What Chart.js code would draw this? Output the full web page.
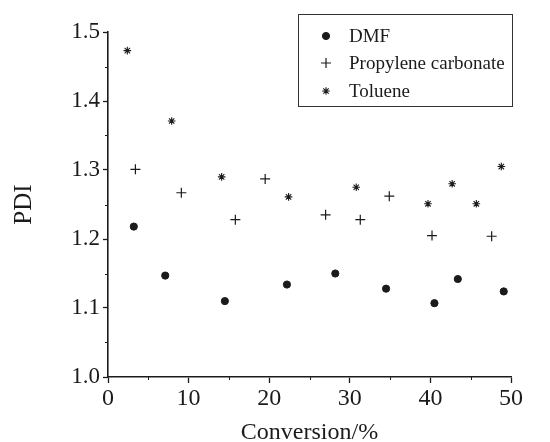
<!DOCTYPE html>
<html>
<head>
<meta charset="utf-8">
<script src="https://cdn.jsdelivr.net/npm/chart.js@4/dist/chart.umd.min.js"></script>
<style>
  html, body { margin: 0; padding: 0; background: #fff; }
  #wrap { width: 550px; height: 442px; }
</style>
</head>
<body>
<div id="wrap"><canvas id="pdiChart" width="550" height="442"></canvas></div>
<script>
// PDI vs conversion, three solvents
const dmfX = [3.2, 7.1, 14.5, 22.2, 28.2, 34.5, 40.5, 43.4, 49.1];
const dmfY = [1.218, 1.147, 1.110, 1.134, 1.150, 1.128, 1.107, 1.142, 1.124];

const pcX = [3.4, 9.1, 15.8, 19.5, 27.0, 31.3, 34.9, 40.2, 47.6];
const pcY = [1.301, 1.267, 1.228, 1.287, 1.235, 1.228, 1.262, 1.205, 1.204];

const tolX = [2.4, 7.9, 14.1, 22.4, 30.8, 39.7, 42.7, 45.7, 48.8];
const tolY = [1.473, 1.371, 1.290, 1.261, 1.275, 1.251, 1.280, 1.251, 1.305];

const xMinorTicks = [5, 15, 25, 35, 45];
const yMinorTicks = [1.05, 1.15, 1.25, 1.35, 1.45];

const INK = '#1b1b1b';
const SERIF = "'Liberation Serif', 'DejaVu Serif', serif";

const toPoints = (xs, ys) => xs.map((x, i) => ({ x: x, y: ys[i] }));

// short minor ticks, outside the axes
const minorTicks = {
  id: 'minorTicks',
  afterDraw(chart) {
    const ctx = chart.ctx;
    const xs = chart.scales.x, ys = chart.scales.y;
    const area = chart.chartArea;
    ctx.save();
    ctx.strokeStyle = INK;
    ctx.lineWidth = 1;
    ctx.beginPath();
    yMinorTicks.forEach(v => {
      const py = Math.round(ys.getPixelForValue(v)) + 0.5;
      ctx.moveTo(area.left - 3, py);
      ctx.lineTo(area.left, py);
    });
    xMinorTicks.forEach(v => {
      const px = Math.round(xs.getPixelForValue(v)) + 0.5;
      ctx.moveTo(px, area.bottom);
      ctx.lineTo(px, area.bottom + 3);
    });
    ctx.stroke();
    ctx.restore();
  }
};

// boxed legend in the upper right
const boxLegend = {
  id: 'boxLegend',
  afterDraw(chart) {
    const ctx = chart.ctx;
    const box = { x: 298, y: 14, w: 214, h: 92 };
    ctx.save();
    ctx.strokeStyle = '#333';
    ctx.lineWidth = 1;
    ctx.strokeRect(box.x + 0.5, box.y + 0.5, box.w, box.h);
    ctx.font = '19px ' + SERIF;
    ctx.textBaseline = 'middle';
    const rows = [36, 63, 91];
    chart.data.datasets.forEach((ds, i) => {
      const opts = {
        pointStyle: ds.pointStyle,
        radius: ds.pointRadius,
        rotation: 0,
        borderWidth: ds.borderWidth
      };
      ctx.fillStyle = ds.backgroundColor;
      ctx.strokeStyle = ds.borderColor;
      ctx.lineWidth = ds.borderWidth;
      Chart.helpers.drawPoint(ctx, opts, 326, rows[i]);
      ctx.fillStyle = INK;
      ctx.fillText(ds.label, 349, rows[i] + 1);
    });
    ctx.restore();
  }
};

new Chart(document.getElementById('pdiChart'), {
  type: 'scatter',
  data: {
    datasets: [
      {
        label: 'DMF',
        data: toPoints(dmfX, dmfY),
        pointStyle: 'circle',
        pointRadius: 3.6,
        backgroundColor: INK,
        borderColor: INK,
        borderWidth: 1
      },
      {
        label: 'Propylene carbonate',
        data: toPoints(pcX, pcY),
        pointStyle: 'cross',
        pointRadius: 5,
        backgroundColor: INK,
        borderColor: INK,
        borderWidth: 1.2
      },
      {
        label: 'Toluene',
        data: toPoints(tolX, tolY),
        pointStyle: 'star',
        pointRadius: 3.8,
        backgroundColor: INK,
        borderColor: INK,
        borderWidth: 1.1
      }
    ]
  },
  options: {
    responsive: false,
    animation: false,
    layout: { padding: { left: 0, top: 32, right: 39, bottom: 0 } },
    plugins: {
      legend: { display: false },
      tooltip: { enabled: false }
    },
    scales: {
      x: {
        type: 'linear',
        min: 0,
        max: 50,
        afterFit: s => { s.height = 65; },
        border: { display: true, color: INK, width: 1.6 },
        grid: { display: true, drawOnChartArea: false, drawTicks: true, tickLength: 6, tickColor: INK, tickWidth: 1.3 },
        ticks: { stepSize: 10, color: INK, padding: 1, font: { family: SERIF, size: 24 } },
        title: {
          display: true,
          text: 'Conversion/%',
          color: INK,
          padding: 0,
          font: { family: SERIF, size: 24, lineHeight: 0.75 }
        }
      },
      y: {
        type: 'linear',
        min: 1.0,
        max: 1.5,
        afterFit: s => { s.width = 108; },
        border: { display: true, color: INK, width: 1.6 },
        grid: { display: true, drawOnChartArea: false, drawTicks: true, tickLength: 5, tickColor: INK, tickWidth: 1.3 },
        ticks: {
          stepSize: 0.1,
          color: INK,
          padding: 3,
          font: { family: SERIF, size: 23 },
          callback: v => v.toFixed(1)
        },
        title: {
          display: true,
          text: 'PDI',
          color: INK,
          padding: { top: 9, bottom: 0 },
          font: { family: SERIF, size: 25 }
        }
      }
    }
  },
  plugins: [minorTicks, boxLegend]
});
</script>
</body>
</html>
